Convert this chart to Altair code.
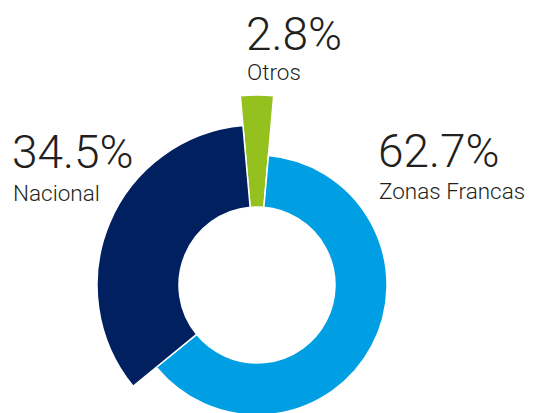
import math
import altair as alt
import pandas as pd

categories = ["Otros", "Zonas Francas", "Nacional"]
shares = [2.8, 62.7, 34.5]
labels = ["2.8%", "62.7%", "34.5%"]
slice_order = [0, 1, 2]
colors = ["#95C11F", "#009FE3", "#002060"]

df = pd.DataFrame({"category": categories, "share": shares, "label": labels, "order": slice_order})

cx, cy = 249, 277
offset = math.pi * shares[0] / 100.0  # centre the small slice on top
outer_radius = {"Otros": 190, "Zonas Francas": 130, "Nacional": 160}

theta_scale = alt.Scale(domain=[0, 100], range=[-offset, 2 * math.pi - offset])
color_scale = alt.Scale(domain=categories, range=colors)

layers = []
for cat in categories:
    layer = (
        alt.Chart(df)
        .transform_window(cum="sum(share)", sort=[alt.SortField("order")],
                          frame=[None, 0])
        .transform_calculate(start="datum.cum - datum.share")
        .transform_filter(alt.datum.category == cat)
        .mark_arc(innerRadius=78, outerRadius=outer_radius[cat], stroke="white", strokeWidth=1.5)
        .encode(
            theta=alt.Theta("start:Q", scale=theta_scale),
            theta2="cum:Q",
            color=alt.Color("category:N", scale=color_scale, legend=None),
            x=alt.value(cx),
            y=alt.value(cy),
        )
    )
    layers.append(layer)

# (x, baseline of percentage, baseline of name)
label_pos = {
    "Otros": (238, 42, 72),
    "Nacional": (4, 160, 193),
    "Zonas Francas": (370, 159, 191),
}

for cat in categories:
    px, py, ny = label_pos[cat]
    base = alt.Chart(df).transform_filter(alt.datum.category == cat)
    layers.append(
        base.mark_text(align="left", baseline="alphabetic", font="Roboto", fontWeight=300,
                       fontSize=46, color="#231F20").encode(
            text="label:N", x=alt.value(px), y=alt.value(py))
    )
    layers.append(
        base.mark_text(align="left", baseline="alphabetic", font="Roboto", fontWeight=300,
                       fontSize=22.5, color="#231F20").encode(
            text="category:N", x=alt.value(px + 1), y=alt.value(ny))
    )

chart = alt.layer(*layers).properties(
    width=520, height=405, padding=0, autosize=alt.AutoSizeParams(type="none")
).configure_view(stroke=None)

chart.save("out.html", embed_options={"renderer": "svg", "actions": False})
